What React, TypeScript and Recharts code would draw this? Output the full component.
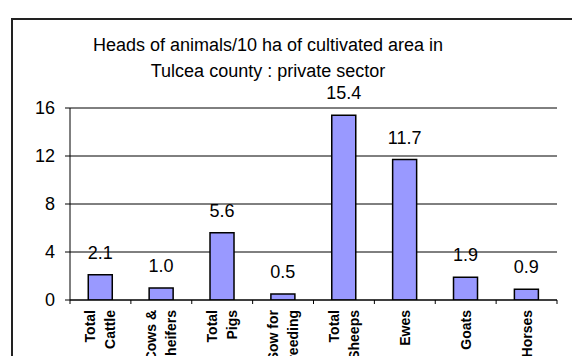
import React from "react";
import { BarChart, Bar, XAxis, YAxis, CartesianGrid, LabelList } from "recharts";

const categories = [
  "Total Cattle",
  "Cows & heifers",
  "Total Pigs",
  "Sow for breeding",
  "Total Sheeps",
  "Ewes",
  "Goats",
  "Horses",
];
const tickLines = [
  ["Total", "Cattle"],
  ["Cows &", "heifers"],
  ["Total", "Pigs"],
  ["Sow for", "breeding"],
  ["Total", "Sheeps"],
  ["Ewes"],
  ["Goats"],
  ["Horses"],
];
const values = [2.1, 1.0, 5.6, 0.5, 15.4, 11.7, 1.9, 0.9];
const yTicks = [0, 4, 8, 12, 16];
const titleLines = ["Heads of animals/10 ha of cultivated area in", "Tulcea county : private sector"];

const data = categories.map((c, i) => ({ name: c, value: values[i] }));

const FONT = "'Liberation Sans', Arial, sans-serif";

const XTick = (props: any) => {
  const { x, y, payload, index } = props;
  const off = payload?.offset ?? 0;
  const i = categories.indexOf(payload.value);
  const lines = tickLines[i] || [String(payload.value)];
  const last = index === categories.length - 1;
  const axisY = y - 4;
  const baseOffsets = lines.length === 2 ? [-5, 15] : [5];
  return (
    <g>
      <line x1={x - off} x2={x - off} y1={axisY} y2={axisY + 4} stroke="#000" />
      {last && <line x1={x + off} x2={x + off} y1={axisY} y2={axisY + 4} stroke="#000" />}
      {lines.map((ln: string, k: number) => (
        <text
          key={k}
          transform={`translate(${x + baseOffsets[k]},${y + 6}) rotate(-90)`}
          textAnchor="end"
          fontFamily={FONT}
          fontSize={14}
          fontWeight="bold"
          fill="#000"
        >
          {ln}
        </text>
      ))}
    </g>
  );
};

export default function App() {
  return (
    <div
      style={{
        position: "fixed",
        left: 0,
        top: 0,
        width: 572,
        height: 356,
        overflow: "hidden",
        background: "#fff",
      }}
    >
      <div
        style={{
          position: "absolute",
          left: 11,
          top: 18,
          width: 600,
          height: 400,
          border: "2px solid #222",
        }}
      />
      <div
        style={{
          position: "absolute",
          left: 68,
          top: 32,
          width: 400,
          textAlign: "center",
          fontFamily: FONT,
          fontSize: 18,
          lineHeight: "26px",
          color: "#000",
        }}
      >
        {titleLines.map((t, i) => (
          <div key={i}>{t}</div>
        ))}
      </div>
      <div style={{ position: "absolute", left: 0, top: 0 }}>
        <BarChart
          width={572}
          height={356}
          data={data}
          margin={{ top: 108, right: 15, bottom: 26, left: 40 }}
          barCategoryGap="30%"
        >
          <CartesianGrid horizontal vertical={false} stroke="#000" strokeWidth={1} />
          <XAxis
            dataKey="name"
            interval={0}
            height={30}
            axisLine={{ stroke: "#000" }}
            tickLine={false}
            tickSize={4}
            tickMargin={0}
            tick={<XTick />}
          />
          <YAxis
            width={30}
            domain={[0, 16]}
            ticks={yTicks}
            axisLine={{ stroke: "#000" }}
            tickLine={{ stroke: "#000" }}
            tickSize={5}
            tickMargin={10}
            tick={{ fill: "#000", fontSize: 18, fontFamily: FONT }}
            allowDataOverflow
          />
          <Bar dataKey="value" fill="#9999FF" stroke="#000" strokeWidth={1.5} isAnimationActive={false}>
            <LabelList
              dataKey="value"
              position="top"
              offset={16}
              formatter={(v: any) => Number(v).toFixed(1)}
              style={{ fill: "#000", fontSize: 18, fontFamily: FONT }}
            />
          </Bar>
        </BarChart>
      </div>
    </div>
  );
}
